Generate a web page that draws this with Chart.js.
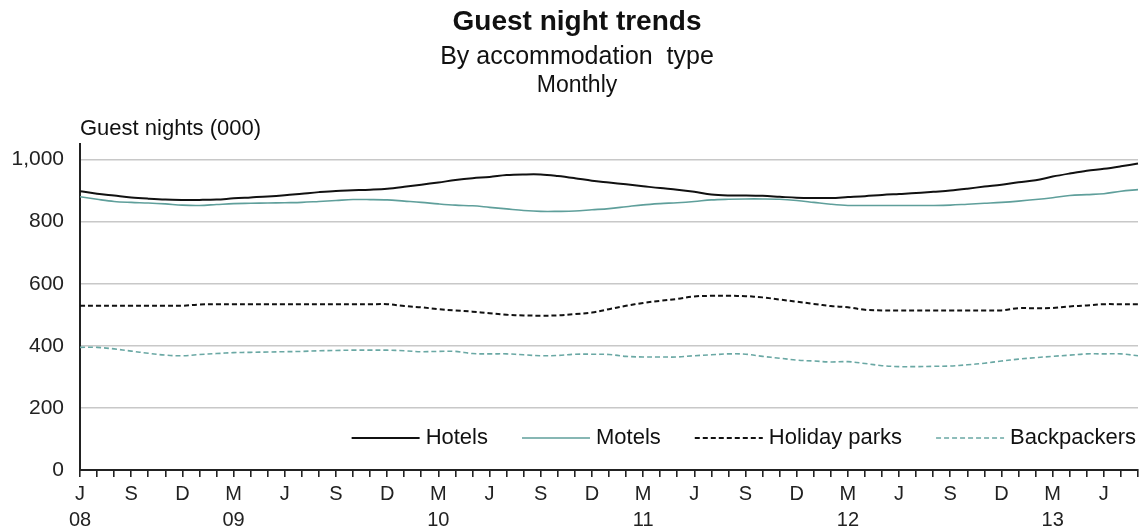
<!DOCTYPE html>
<html>
<head>
<meta charset="utf-8">
<title>Guest night trends</title>
<script src="https://cdn.jsdelivr.net/npm/chart.js@4.4.0/dist/chart.umd.min.js"></script>
<style>
  html, body { margin: 0; padding: 0; background: #fff; }
  canvas { display: block; }
</style>
</head>
<body>
<canvas id="guestChart" width="1142" height="530"></canvas>
<script>
// --- Data (thousands of guest nights) ---
const months = [
  'Jun 2008','Jul 2008','Aug 2008','Sep 2008','Oct 2008','Nov 2008','Dec 2008',
  'Jan 2009','Feb 2009','Mar 2009','Apr 2009','May 2009','Jun 2009','Jul 2009','Aug 2009','Sep 2009','Oct 2009','Nov 2009','Dec 2009',
  'Jan 2010','Feb 2010','Mar 2010','Apr 2010','May 2010','Jun 2010','Jul 2010','Aug 2010','Sep 2010','Oct 2010','Nov 2010','Dec 2010',
  'Jan 2011','Feb 2011','Mar 2011','Apr 2011','May 2011','Jun 2011','Jul 2011','Aug 2011','Sep 2011','Oct 2011','Nov 2011','Dec 2011',
  'Jan 2012','Feb 2012','Mar 2012','Apr 2012','May 2012','Jun 2012','Jul 2012','Aug 2012','Sep 2012','Oct 2012','Nov 2012','Dec 2012',
  'Jan 2013','Feb 2013','Mar 2013','Apr 2013','May 2013','Jun 2013','Jul 2013','Aug 2013'
];

const hotels = [898,890,884,878,874,871,870,870,871,875, 878,881,885,890,895,899,901,903,906,912,
  919,926,934,940,944,950,952,952,947,940, 932,926,920,914,908,903,896,887,884,884,
  883,880,877,876,876,879,882,886,889,892, 896,900,906,913,919,927,933,945,955,964,
  970,978,987];

const motels = [880,872,865,862,860,857,853,852,855,858, 859,860,861,862,865,868,871,871,870,866,
  862,857,853,851,846,841,836,833,833,834, 838,842,848,854,858,861,865,870,872,873,
  873,872,868,862,856,852,852,852,852,852, 852,853,856,859,862,866,871,877,884,887,
  890,898,903];

const holidayParks = [529,529,529,529,529,529,529,533,534,534, 534,534,534,534,534,534,534,534,534,528,
  524,518,514,510,505,500,498,497,498,502, 507,518,529,538,545,551,559,561,561,560,
  556,549,542,535,528,524,516,514,514,514, 514,514,514,514,514,521,521,522,527,530,
  534,534,534];

const backpackers = [395,395,390,383,376,370,368,372,375,378, 379,380,381,382,384,385,386,386,386,384,
  381,382,382,375,374,374,371,368,369,373, 373,372,366,364,364,364,368,371,374,373,
  366,360,354,351,348,349,343,336,333,333, 334,335,339,344,351,357,362,366,370,374,
  374,374,368];

// --- Tick labels ---
const monthLetters = { Mar: 'M', Jun: 'J', Sep: 'S', Dec: 'D' };
const yTicks = [0, 200, 400, 600, 800, 1000];

const titleText = 'Guest night trends';
const subtitleText = 'By accommodation  type';
const periodText = 'Monthly';
const yAxisTitle = 'Guest nights (000)';

const FONT = '"Liberation Sans", Arial, sans-serif';

// draws the titles, the y axis title and the legend inside the plot
const textPlugin = {
  id: 'texts',
  afterDraw(chart) {
    const ctx = chart.ctx;
    const area = chart.chartArea;
    ctx.save();
    ctx.fillStyle = '#111';
    ctx.textAlign = 'center';
    ctx.textBaseline = 'middle';
    ctx.font = 'bold 28px ' + FONT;
    ctx.fillText(titleText, 577, 22);
    ctx.font = '25px ' + FONT;
    ctx.fillText(subtitleText, 577, 57);
    ctx.font = '23px ' + FONT;
    ctx.fillText(periodText, 577, 86);

    ctx.textAlign = 'left';
    ctx.font = '22px ' + FONT;
    ctx.fillText(yAxisTitle, area.left, 129);

    // legend, right aligned near the bottom of the plot
    ctx.font = '22px ' + FONT;
    const sample = 68, gapText = 6, gapItem = 34;
    const sets = chart.data.datasets;
    let total = 0;
    sets.forEach((ds, i) => {
      total += sample + gapText + ctx.measureText(ds.label).width;
      if (i < sets.length - 1) total += gapItem;
    });
    let x = area.right - 2 - total;
    const y = 438;
    sets.forEach(ds => {
      ctx.beginPath();
      ctx.strokeStyle = ds.borderColor;
      ctx.lineWidth = ds.borderWidth;
      ctx.setLineDash(ds.borderDash || []);
      ctx.moveTo(x, y);
      ctx.lineTo(x + sample, y);
      ctx.stroke();
      ctx.setLineDash([]);
      x += sample + gapText;
      ctx.fillStyle = '#111';
      ctx.fillText(ds.label, x, y);
      x += ctx.measureText(ds.label).width + gapItem;
    });
    ctx.restore();
  }
};

const ctx = document.getElementById('guestChart').getContext('2d');
const guestChart = new Chart(ctx, {
  type: 'line',
  data: {
    labels: months,
    datasets: [
      { label: 'Hotels', data: hotels, borderColor: '#111111', borderWidth: 2 },
      { label: 'Motels', data: motels, borderColor: '#5f9f9b', borderWidth: 1.6 },
      { label: 'Holiday parks', data: holidayParks, borderColor: '#111111', borderWidth: 2, borderDash: [5, 3] },
      { label: 'Backpackers', data: backpackers, borderColor: '#6aa8a4', borderWidth: 1.6, borderDash: [5, 3] }
    ]
  },
  options: {
    responsive: false,
    animation: false,
    layout: { padding: { top: 144, right: 2, left: 0, bottom: 0 } },
    elements: {
      point: { radius: 0 },
      line: { tension: 0.35, fill: false }
    },
    plugins: {
      legend: { display: false },
      title: { display: false },
      tooltip: { enabled: false }
    },
    scales: {
      x: {
        offset: false,
        grid: { drawOnChartArea: false, drawTicks: true, tickLength: 7, color: '#222', lineWidth: 1.6 },
        border: { color: '#222', width: 2 },
        ticks: {
          autoSkip: false,
          maxRotation: 0,
          padding: 4,
          color: '#222',
          font: { family: FONT, size: 20, lineHeight: 1.3 },
          callback: function(value, index) {
            const parts = months[index].split(' ');
            const letter = monthLetters[parts[0]];
            if (!letter) return '';
            const year = (parts[0] === 'Mar' || index === 0) ? parts[1].slice(2) : '';
            return [letter, year];
          }
        },
        afterFit: function(scale) { scale.height = 60; }
      },
      y: {
        min: 0,
        max: 1050,
        afterBuildTicks: function(scale) {
          scale.ticks = yTicks.map(v => ({ value: v }));
        },
        grid: {
          drawTicks: false,
          color: ctx => ctx.tick && ctx.tick.value === 0 ? 'rgba(0,0,0,0)' : '#c8c8c8',
          lineWidth: 1.5
        },
        border: { color: '#222', width: 2 },
        ticks: {
          padding: 16,
          color: '#222',
          font: { family: FONT, size: 21 },
          callback: v => v.toLocaleString('en-US')
        },
        afterFit: function(scale) { scale.width = 80; }
      }
    }
  },
  plugins: [textPlugin]
});
</script>
</body>
</html>
